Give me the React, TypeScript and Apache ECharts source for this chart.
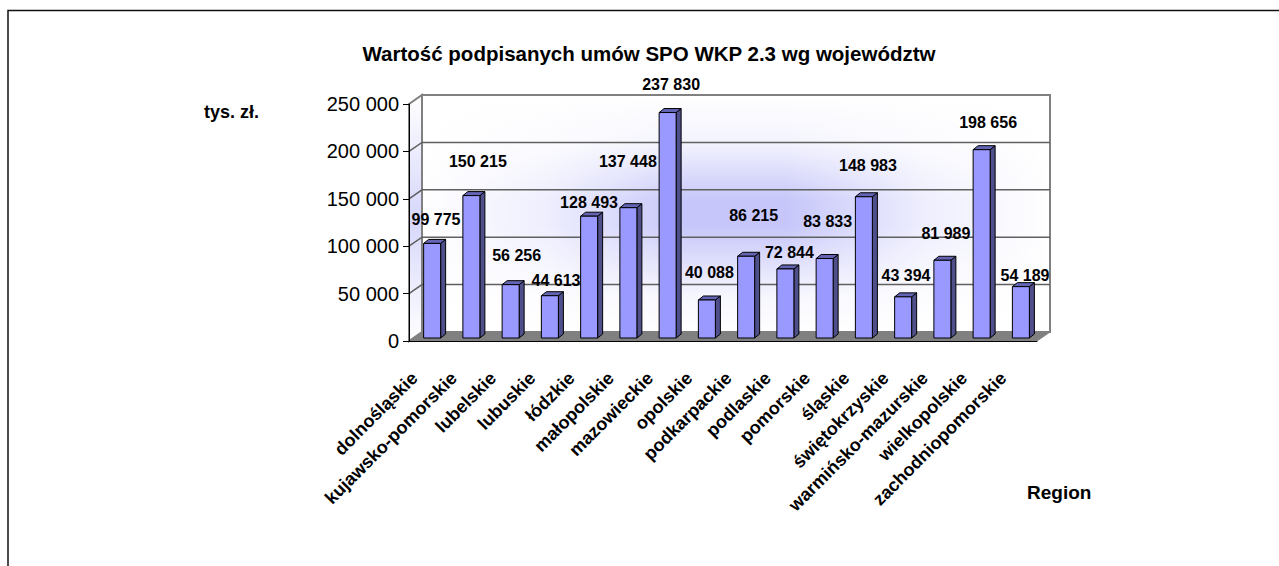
import React, { useEffect, useRef } from "react";
import * as echarts from "echarts";

const categories = ["dolnośląskie","kujawsko-pomorskie","lubelskie","lubuskie","łódzkie","małopolskie","mazowieckie","opolskie","podkarpackie","podlaskie","pomorskie","śląskie","świętokrzyskie","warmińsko-mazurskie","wielkopolskie","zachodniopomorskie"];
const values = [99775,150215,56256,44613,128493,137448,237830,40088,86215,72844,83833,148983,43394,81989,198656,54189];
const labelDx = [4.4,7,6.5,6.6,0.4,0,4,3,8,4.5,3.5,4.6,3.4,4,7,4.6];
const labelDy = [-24,-34,-29,-15,-14,-46,-28,-27,-41,-16,-37,-31,-21,-27,-27,-11];
const W = 1279, H = 566;
const L = 409, R = 1037, T = 104, B = 341, DX = 13, DY = 9;
const font = "'Liberation Sans', Arial, sans-serif";

export default function App() {
  const ref = useRef<HTMLDivElement>(null);
  useEffect(() => {
    document.body.style.margin = "0";
    const chart = echarts.init(ref.current!, null, { renderer: "svg" });
    const bgH = new echarts.graphic.LinearGradient(0, 0, 1, 0, [
      { offset: 0, color: "#ffffff" }, { offset: 0.2, color: "#eeeefe" }, { offset: 0.42, color: "#c6c6fa" },
      { offset: 0.58, color: "#c6c6fa" }, { offset: 0.8, color: "#eeeefe" }, { offset: 1, color: "#ffffff" },
    ]);
    const bgV = new echarts.graphic.LinearGradient(0, 0, 0, 1, [
      { offset: 0, color: "rgba(255,255,255,1)" }, { offset: 0.2, color: "rgba(255,255,255,0.8)" },
      { offset: 0.45, color: "rgba(255,255,255,0)" }, { offset: 0.55, color: "rgba(255,255,255,0)" },
      { offset: 0.85, color: "rgba(255,255,255,0.85)" }, { offset: 1, color: "rgba(255,255,255,1)" },
    ]);
    const wallSide = new echarts.graphic.LinearGradient(0, 0, 0, 1, [
      { offset: 0, color: "#ffffff" }, { offset: 0.5, color: "#d6d6fb" }, { offset: 1, color: "#ffffff" },
    ]);
    chart.setOption({
      animation: false,
      title: { text: "Wartość podpisanych umów SPO WKP 2.3 wg województw", left: 644, top: 38, textAlign: "center",
        textStyle: { fontFamily: font, fontSize: 20.5, fontWeight: "bold", color: "#000" } },
      grid: { left: L, right: W - R, top: T, bottom: H - B },
      xAxis: { type: "category", data: categories, axisLine: { lineStyle: { color: "#000", width: 1 } },
        axisTick: { alignWithLabel: false, length: 6, lineStyle: { color: "#000" } },
        axisLabel: { interval: 0, rotate: 45, fontFamily: font, fontWeight: "bold", fontSize: 18, color: "#000", margin: 20, padding: [0, 20, 0, 0] } },
      yAxis: { type: "value", min: 0, max: 250000, interval: 50000,
        axisLine: { show: true, lineStyle: { color: "#000" } }, axisTick: { show: true, length: 6, lineStyle: { color: "#000" } },
        splitLine: { show: false },
        axisLabel: { fontFamily: font, fontSize: 20, color: "#000", margin: 10, formatter: (v: number) => String(v).replace(/\B(?=(\d{3})+$)/g, " ") } },
      series: [{
        type: "custom", coordinateSystem: "cartesian2d", data: values.map((v, i) => [i, v]), z: 5, clip: false,
        renderItem: (_p: any, api: any) => {
          const i = api.value(0), v = api.value(1);
          const [cx, top] = api.coord([i, v]);
          const [, base] = api.coord([i, 0]);
          const x0 = cx - 5, x1 = cx + 12, b = base - 3, t = top - 3, sx = 5, sy = 4;
          const line = { stroke: "#000", lineWidth: 1 };
          return { type: "group", children: [
            { type: "polygon", shape: { points: [[x1,b],[x1+sx,b-sy],[x1+sx,t-sy],[x1,t]] }, style: { fill: "#4f4f8c", ...line } },
            { type: "polygon", shape: { points: [[x0,t],[x0+sx,t-sy],[x1+sx,t-sy],[x1,t]] }, style: { fill: "#6464b4", ...line } },
            { type: "rect", shape: { x: x0, y: t, width: x1 - x0, height: b - t }, style: { fill: "#9999ff", ...line } },
            { type: "text", x: cx + 3 + labelDx[i], y: t + labelDy[i], style: { text: String(v).replace(/\B(?=(\d{3})+$)/g, " "), fontFamily: font, fontWeight: "bold", fontSize: 16, fill: "#000", align: "center", verticalAlign: "middle" } },
          ] };
        },
      }],
      graphic: [
        { type: "polyline", z: -1, shape: { points: [[8, H], [8, 10.5], [W, 10.5]] }, style: { fill: "none", stroke: "#111", lineWidth: 1.5 } },
        { type: "text", x: 204, y: 112, style: { text: "tys. zł.", fontFamily: font, fontWeight: "bold", fontSize: 18, fill: "#000", verticalAlign: "middle" } },
        { type: "text", x: 1027, y: 492, style: { text: "Region", fontFamily: font, fontWeight: "bold", fontSize: 19, fill: "#000", verticalAlign: "middle" } },
        { type: "polygon", z: -3, shape: { points: [[L, T], [L + DX, T - DY], [L + DX, B - DY], [L, B]] }, style: { fill: wallSide, stroke: "#808080", lineWidth: 2 } },
        { type: "rect", z: -3, shape: { x: L + DX, y: T - DY, width: R - L, height: B - T }, style: { fill: bgH } },
        { type: "rect", z: -2, shape: { x: L + DX, y: T - DY, width: R - L, height: B - T }, style: { fill: bgV, stroke: "#808080", lineWidth: 2 } },
        { type: "polygon", z: 0, shape: { points: [[L, B], [L + DX, B - DY], [R + DX, B - DY], [R, B]] }, style: { fill: "#808080", stroke: "#808080" } },
        ...[1,2,3,4].map((k) => { const y = B - (k * (B - T)) / 5; return { type: "polyline", z: 0, shape: { points: [[L, y], [L + DX, y - DY], [R + DX, y - DY]] }, style: { fill: "none", stroke: "#606060", lineWidth: 1.5 } }; }),
      ],
    });
    return () => chart.dispose();
  }, []);
  return <div ref={ref} style={{ width: W, height: H }} />;
}
